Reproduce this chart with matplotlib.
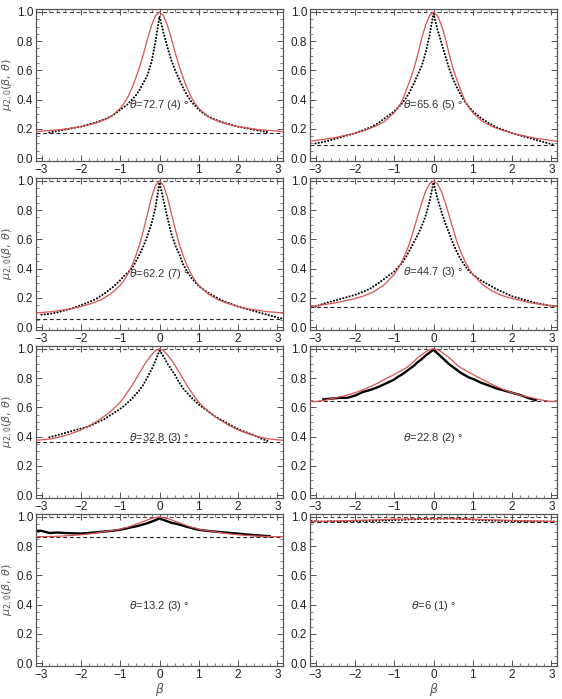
import numpy as np
import matplotlib
matplotlib.use("Agg")
import matplotlib.pyplot as plt
from matplotlib.ticker import MultipleLocator

plt.rcParams['font.family'] = ['Liberation Sans', 'DejaVu Sans']
plt.rcParams['mathtext.fontset'] = 'dejavusans'

NAN = np.nan
# beta grid for measured data
beta_data = [-3.1, -3.0, -2.8, -2.6, -2.4, -2.2, -2.0, -1.8, -1.6, -1.4, -1.2,
             -1.0, -0.9, -0.8, -0.7, -0.6, -0.5, -0.4, -0.3, -0.2, -0.1, 0.0,
             0.1, 0.2, 0.3, 0.4, 0.5, 0.6, 0.7, 0.8, 0.9, 1.0,
             1.2, 1.4, 1.6, 1.8, 2.0, 2.2, 2.4, 2.6, 2.8, 3.0, 3.1]
# beta grid for model curves
beta_model = [-3.14, -3.0, -2.75, -2.5, -2.25, -2.0, -1.75, -1.5, -1.25, -1.0,
              -0.9, -0.8, -0.7, -0.6, -0.5, -0.4, -0.3, -0.2, -0.1, 0.0,
              0.1, 0.2, 0.3, 0.4, 0.5, 0.6, 0.7, 0.8, 0.9, 1.0,
              1.25, 1.5, 1.75, 2.0, 2.25, 2.5, 2.75, 3.0, 3.14]

labels = [r"$\theta$=72.7 (4) °", r"$\theta$=65.6 (5) °", r"$\theta$=62.2 (7) °",
          r"$\theta$=44.7 (3) °", r"$\theta$=32.8 (3) °", r"$\theta$=22.8 (2) °",
          r"$\theta$=13.2 (3) °", r"$\theta$=6 (1) °"]
baselines = [0.17, 0.09, 0.055, 0.135, 0.36, 0.645, 0.86, 0.965]

data_72 = [NAN, NAN, 0.175, 0.185, 0.195, 0.205, 0.215, 0.23, 0.245, 0.265, 0.29,
           0.33, 0.35, 0.37, 0.40, 0.43, 0.47, 0.52, 0.57, 0.66, 0.80, 0.97,
           0.86, 0.76, 0.67, 0.60, 0.54, 0.48, 0.43, 0.39, 0.36, 0.33,
           0.29, 0.265, 0.245, 0.23, 0.215, 0.205, 0.195, 0.185, 0.175, NAN, NAN]
data_65 = [NAN, 0.10, 0.11, 0.125, 0.14, 0.155, 0.17, 0.19, 0.21, 0.24, 0.28,
           0.32, 0.345, 0.375, 0.41, 0.455, 0.51, 0.57, 0.63, 0.72, 0.84, 0.99,
           0.88, 0.79, 0.70, 0.61, 0.54, 0.48, 0.43, 0.385, 0.35, 0.32,
           0.275, 0.24, 0.21, 0.19, 0.17, 0.155, 0.14, 0.125, 0.11, 0.095, 0.09]
data_62 = [NAN, 0.085, 0.09, 0.10, 0.115, 0.13, 0.15, 0.17, 0.195, 0.23, 0.27,
           0.32, 0.35, 0.375, 0.40, 0.45, 0.50, 0.56, 0.63, 0.71, 0.82, 0.99,
           0.87, 0.75, 0.64, 0.56, 0.50, 0.43, 0.38, 0.34, 0.31, 0.28,
           0.24, 0.21, 0.18, 0.16, 0.14, 0.125, 0.11, 0.095, 0.08, 0.065, 0.06]
data_44 = [NAN, 0.14, 0.16, 0.175, 0.19, 0.205, 0.22, 0.24, 0.265, 0.30, 0.34,
           0.38, 0.41, 0.44, 0.48, 0.53, 0.58, 0.63, 0.69, 0.76, 0.86, 0.99,
           0.88, 0.79, 0.71, 0.64, 0.57, 0.51, 0.46, 0.42, 0.385, 0.36,
           0.32, 0.29, 0.26, 0.235, 0.21, 0.195, 0.18, 0.165, 0.155, 0.145, 0.14]
data_32 = [NAN, NAN, 0.395, 0.41, 0.425, 0.44, 0.455, 0.47, 0.495, 0.52, 0.555,
           0.59, 0.61, 0.635, 0.66, 0.69, 0.72, 0.76, 0.81, 0.86, 0.92, 0.99,
           0.95, 0.90, 0.86, 0.82, 0.77, 0.73, 0.70, 0.67, 0.645, 0.62,
           0.58, 0.54, 0.51, 0.48, 0.45, 0.43, 0.41, 0.385, 0.365, NAN, NAN]
data_22 = [NAN, NAN, 0.655, 0.66, 0.665, 0.665, 0.68, 0.705, 0.72, 0.74, 0.765,
           0.79, 0.81, 0.825, 0.845, 0.865, 0.885, 0.91, 0.93, 0.955, 0.975, 0.995,
           0.97, 0.945, 0.92, 0.895, 0.875, 0.855, 0.835, 0.82, 0.805, 0.795,
           0.77, 0.75, 0.73, 0.715, 0.70, 0.685, 0.665, 0.65, NAN, NAN, NAN]
data_13 = [0.905, 0.905, 0.89, 0.893, 0.89, 0.888, 0.886, 0.89, 0.895, 0.90, 0.905,
           0.912, 0.918, 0.924, 0.93, 0.935, 0.942, 0.95, 0.958, 0.968, 0.978, 0.99,
           0.98, 0.97, 0.96, 0.955, 0.948, 0.94, 0.932, 0.925, 0.918, 0.912,
           0.905, 0.90, 0.895, 0.89, 0.886, 0.88, 0.876, 0.872, 0.868, NAN, NAN]
data_6 = [0.972, 0.970, 0.968, 0.971, 0.969, 0.972, 0.970, 0.973, 0.972, 0.975, 0.976,
          0.978, 0.980, 0.979, 0.982, 0.984, 0.983, 0.985, 0.986, 0.985, 0.987, 0.988,
          0.987, 0.989, 0.988, 0.990, 0.989, 0.988, 0.987, 0.986, 0.984, 0.982,
          0.978, 0.976, 0.974, 0.973, 0.972, 0.971, 0.970, 0.969, 0.970, 0.968, 0.969]

model_72 = [0.18, 0.185, 0.19, 0.195, 0.205, 0.215, 0.23, 0.25, 0.28, 0.34,
            0.375, 0.42, 0.48, 0.55, 0.63, 0.72, 0.82, 0.91, 0.975, 1.0,
            0.975, 0.91, 0.82, 0.72, 0.63, 0.55, 0.48, 0.42, 0.375, 0.34,
            0.28, 0.25, 0.23, 0.215, 0.205, 0.195, 0.19, 0.185, 0.18]
model_65 = [0.115, 0.12, 0.13, 0.14, 0.155, 0.17, 0.19, 0.215, 0.25, 0.31,
            0.345, 0.39, 0.46, 0.53, 0.61, 0.71, 0.82, 0.91, 0.975, 1.0,
            0.975, 0.91, 0.82, 0.71, 0.61, 0.53, 0.46, 0.39, 0.345, 0.31,
            0.25, 0.215, 0.19, 0.17, 0.155, 0.14, 0.13, 0.12, 0.115]
model_62 = [0.095, 0.10, 0.105, 0.115, 0.125, 0.14, 0.16, 0.185, 0.225, 0.285,
            0.32, 0.365, 0.42, 0.49, 0.57, 0.67, 0.78, 0.89, 0.97, 1.0,
            0.97, 0.89, 0.78, 0.67, 0.57, 0.49, 0.42, 0.365, 0.32, 0.285,
            0.225, 0.185, 0.16, 0.14, 0.125, 0.115, 0.105, 0.10, 0.095]
model_44 = [0.14, 0.145, 0.155, 0.165, 0.18, 0.195, 0.215, 0.245, 0.29, 0.36,
            0.40, 0.45, 0.51, 0.58, 0.67, 0.76, 0.85, 0.93, 0.98, 1.0,
            0.98, 0.93, 0.85, 0.76, 0.67, 0.58, 0.51, 0.45, 0.40, 0.36,
            0.29, 0.245, 0.215, 0.195, 0.18, 0.165, 0.155, 0.145, 0.14]
model_32 = [0.375, 0.378, 0.385, 0.40, 0.42, 0.445, 0.48, 0.52, 0.57, 0.635,
            0.67, 0.71, 0.75, 0.795, 0.84, 0.885, 0.925, 0.96, 0.99, 1.0,
            0.99, 0.96, 0.925, 0.885, 0.84, 0.795, 0.75, 0.71, 0.67, 0.635,
            0.57, 0.52, 0.48, 0.445, 0.42, 0.40, 0.385, 0.378, 0.375]
model_22 = [0.64, 0.64, 0.65, 0.665, 0.68, 0.70, 0.725, 0.755, 0.79, 0.825,
            0.84, 0.855, 0.87, 0.89, 0.915, 0.94, 0.96, 0.98, 0.995, 1.0,
            0.995, 0.98, 0.96, 0.94, 0.915, 0.89, 0.87, 0.855, 0.84, 0.825,
            0.79, 0.755, 0.725, 0.70, 0.68, 0.665, 0.65, 0.64, 0.64]
model_13 = [0.865, 0.865, 0.866, 0.869, 0.873, 0.878, 0.885, 0.895, 0.905, 0.915,
            0.925, 0.93, 0.94, 0.95, 0.96, 0.97, 0.98, 0.99, 0.995, 1.0,
            0.995, 0.99, 0.98, 0.97, 0.96, 0.95, 0.94, 0.93, 0.925, 0.915,
            0.905, 0.895, 0.885, 0.878, 0.873, 0.869, 0.866, 0.865, 0.865]
model_6 = [0.968, 0.969, 0.970, 0.972, 0.974, 0.976, 0.978, 0.980, 0.982, 0.984,
           0.985, 0.985, 0.986, 0.986, 0.987, 0.987, 0.988, 0.988, 0.988, 0.988,
           0.988, 0.988, 0.988, 0.988, 0.987, 0.987, 0.986, 0.986, 0.985, 0.984,
           0.982, 0.980, 0.978, 0.976, 0.974, 0.972, 0.970, 0.969, 0.968]

data_sets = [data_72, data_65, data_62, data_44, data_32, data_22, data_13, data_6]
model_sets = [model_72, model_65, model_62, model_44, model_32, model_22, model_13, model_6]
solid_data = [False, False, False, False, False, True, True, False]
label_y = [0.36, 0.36, 0.36, 0.38, 0.39, 0.39, 0.39, 0.39]

W, H = 562, 699
fig = plt.figure(figsize=(W / 100, H / 100), dpi=100)
col_left = [36, 310]
col_w = 247
row_top = [9, 178, 346, 514]
row_h = 152

frame_col = '#555555'
for i in range(8):
    r, c = divmod(i, 2)
    x0 = col_left[c] / W
    y0 = 1 - (row_top[r] + row_h) / H
    ax = fig.add_axes([x0, y0, col_w / W, row_h / H])
    ax.set_xlim(-3.14, 3.14)
    ax.set_ylim(-0.02, 1.02)
    b = baselines[i]
    ax.axhline(1.0, color='#444444', lw=0.8, ls=(0, (3.5, 2.5)), zorder=1)
    ax.axhline(b, color='#222222', lw=0.8, ls=(0, (3.5, 2.5)), zorder=1)
    ax.plot(beta_model, model_sets[i], color='#d9534f', lw=0.9, zorder=3)
    if solid_data[i]:
        ax.plot(beta_data, data_sets[i], color='black', lw=1.7, zorder=2)
    else:
        ax.plot(beta_data, data_sets[i], color='black', lw=1.5,
                ls=(0, (0.05, 1.5)), dash_capstyle='round', zorder=2)
    ax.text(0.0, label_y[i], labels[i], ha='center', va='center',
            fontsize=8, color='#333333')
    ax.xaxis.set_major_locator(MultipleLocator(1))
    ax.xaxis.set_minor_locator(MultipleLocator(0.2))
    ax.yaxis.set_major_locator(MultipleLocator(0.2))
    ax.yaxis.set_minor_locator(MultipleLocator(0.05))
    ax.tick_params(which='both', direction='in', top=True, right=True,
                   color=frame_col, labelsize=8.5, labelcolor='#222222', pad=2)
    ax.tick_params(which='major', length=4, width=0.7)
    ax.tick_params(which='minor', length=2, width=0.5)
    ax.set_xticks([-3, -2, -1, 0, 1, 2, 3])
    ax.set_xticklabels(['\u22123', '\u22122', '\u22121', '0', '1', '2', '3'])
    ax.set_yticks([0.0, 0.2, 0.4, 0.6, 0.8, 1.0])
    ax.set_yticklabels(['0.0', '0.2', '0.4', '0.6', '0.8', '1.0'])
    for s in ax.spines.values():
        s.set_color(frame_col)
        s.set_linewidth(0.9)
    if c == 0:
        ax.set_ylabel(r"$\mu_{2,0}(\beta,\,\theta)$", fontsize=8, color='#555555')
        ax.yaxis.set_label_coords(-0.082, 0.5)
    if r == 3:
        ax.set_xlabel(r"$\beta$", fontsize=9, color='#555555', labelpad=0)

fig.savefig('out.png', dpi=100)
